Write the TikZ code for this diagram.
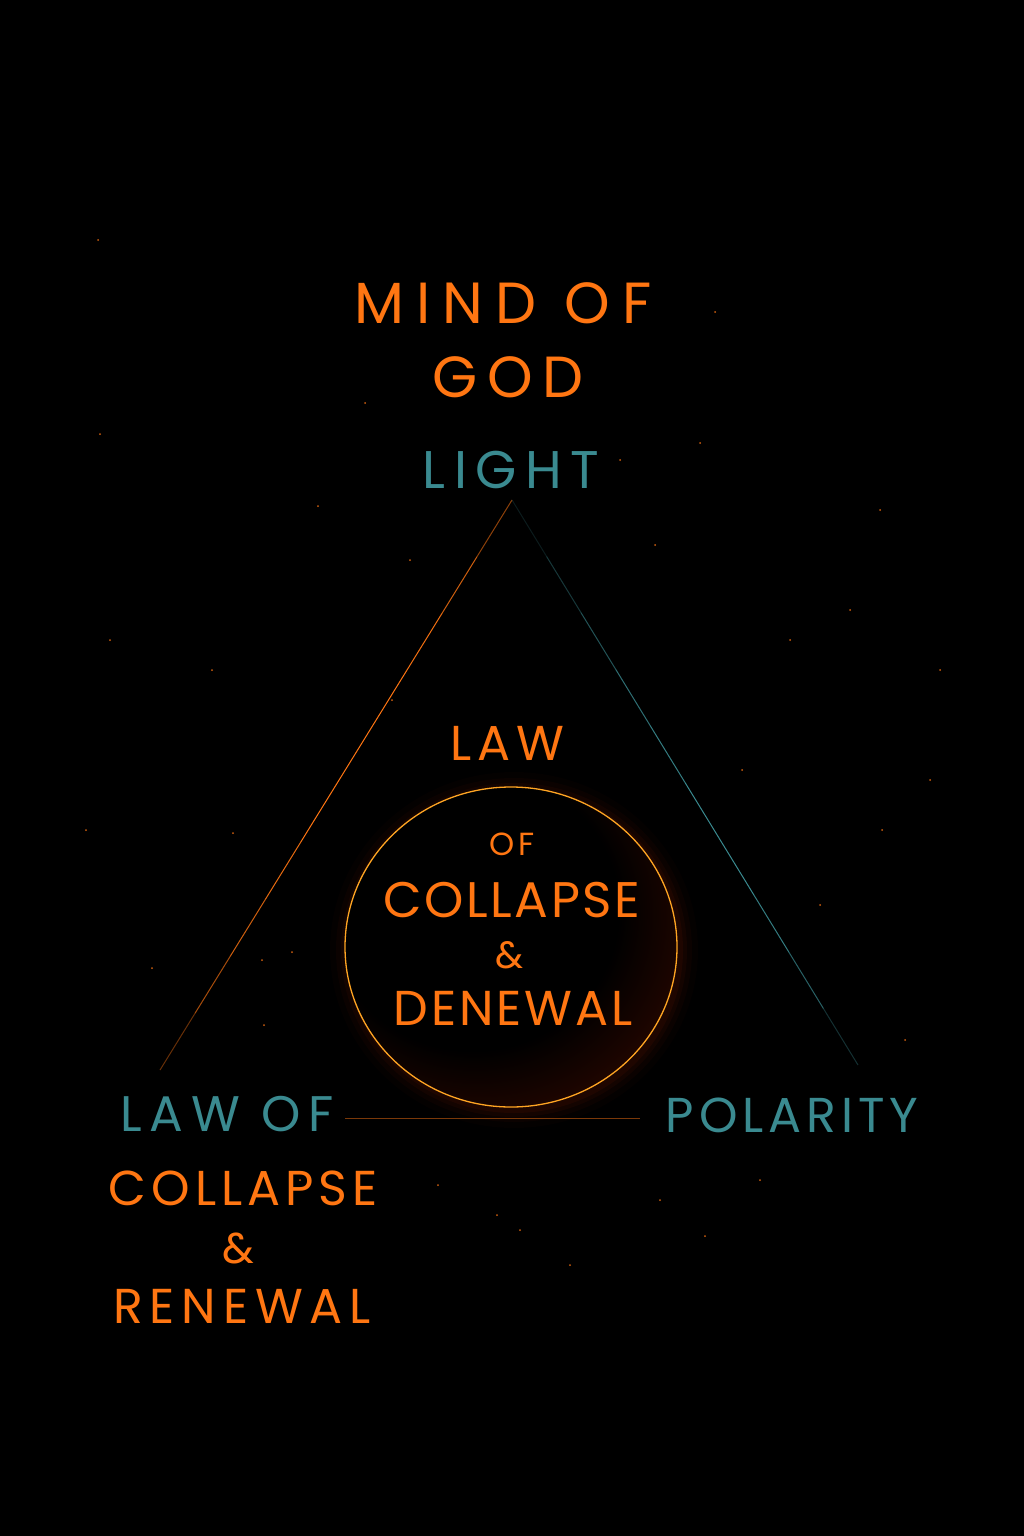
\documentclass[tikz,border=0pt]{standalone}
\usepackage{fontspec}
\setmainfont{Poppins}[LetterSpace=10]
\usetikzlibrary{fadings,calc}
\definecolor{og}{RGB}{255,118,18}
\definecolor{tl}{RGB}{58,138,144}
\definecolor{rim}{RGB}{255,165,35}
\definecolor{glow}{RGB}{150,32,0}
\definecolor{glowdk}{RGB}{60,10,0}
\pgfdeclareradialshading{cglow}{\pgfpoint{-9bp}{9bp}}{color(0bp)=(black); color(22bp)=(black); color(40bp)=(glowdk); color(56bp)=(glow); color(62bp)=(glow)}
\newcommand\pf[2]{\fontsize{#1}{#1}\selectfont\addfontfeature{LetterSpace=#2}}
\tikzset{
  otext/.style={text=og, anchor=base, inner sep=0pt},
  ttext/.style={text=tl, anchor=base, inner sep=0pt},
  star/.style={fill=og, circle, inner sep=0pt, minimum size=2pt}
}
\begin{document}
\begin{tikzpicture}[x=1pt,y=-1pt]
\fill[black] (0,0) rectangle (1024,1536);
\useasboundingbox (0,0) rectangle (1024,1536);
% stars
\foreach \sx/\sy in {98/240,100/434,152/968,212/670,233/833,262/960,264/1025,292/952,318/506,392/700,365/403,438/1185,497/1215,520/1230,655/545,700/443,715/312,742/770,790/640,850/610,880/510,882/830,905/1040,930/780,940/670,86/830,110/640,610/1050,660/1200,705/1236,570/1265,410/560,620/460,760/1180,820/905,300/1180}
  \node[star, opacity=0.8] at (\sx,\sy) {};
% glow of circle
\foreach \r/\o in {184/0.03,178/0.05,173/0.07,169/0.09}
  \fill[glow, opacity=\o] (514,950) ellipse [x radius=\r, y radius=\r-6];
\shade[shading=cglow] (511,947) ellipse [x radius=166, y radius=160];
% triangle
\coordinate (apex) at (512,500);
\coordinate (bl) at (160,1070);
\coordinate (br) at (858,1065);
\coordinate (b1) at (345,1118);
\coordinate (b2) at (640,1118);
\foreach \t/\o in {0/0.55,0.1/0.8,0.2/0.95,0.3/1,0.4/1,0.5/1,0.6/0.9,0.7/0.8,0.8/0.65,0.9/0.4}
  \draw[og, line width=1pt, opacity=\o] ($(apex)!\t!(bl)$) -- ($(apex)!\t+0.1!(bl)$);
\foreach \t/\o in {0/0.2,0.1/0.4,0.2/0.6,0.3/0.8,0.4/0.9,0.5/1,0.6/1,0.7/0.9,0.8/0.7,0.9/0.35}
  \draw[tl, line width=1pt, opacity=\o] ($(apex)!\t!(br)$) -- ($(apex)!\t+0.1!(br)$);
\draw[og!60!black, line width=0.8pt, opacity=0.8] (b1) -- (b2);
% circle rim
\draw[rim, line width=1.3pt] (511,947) ellipse [x radius=166, y radius=160];
% texts
\node[otext, font=\pf{58}{21}] (mind) at (503,323) {MIND OF};
\node[otext, font=\pf{58}{16}] (god) at (508,397) {GOD};
\node[ttext, font=\pf{53}{16}] (light) at (511,488) {LIGHT};
\node[otext, font=\pf{49}{12}] (law) at (507,760) {LAW};
\node[otext, font=\pf{32}{10}] (of) at (512,855) {OF};
\node[otext, font=\pf{50}{5}] (coll) at (512,917) {COLLAPSE};
\node[otext, font=\pf{38}{0}] (amp) at (510,968) {\&};
\node[otext, font=\pf{49}{6}] (den) at (513,1025) {DENEWAL};
\node[ttext, font=\pf{50}{16}] (lawof) at (227,1131) {LAW OF};
\node[otext, font=\pf{49}{10}] (coll2) at (243,1205) {COLLAPSE};
\node[otext, font=\pf{43}{0}] (amp2) at (238,1263) {\&};
\node[otext, font=\pf{49}{14}] (ren) at (242,1323) {RENEWAL};
\node[ttext, font=\pf{49}{10}] (pol) at (792,1132) {POLARITY};
\end{tikzpicture}
\end{document}
